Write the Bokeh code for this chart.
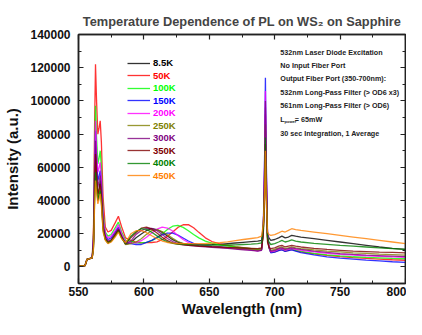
from bokeh.plotting import figure
from bokeh.models import (LinearAxis, SingleIntervalTicker, Label, Legend, Range1d,
                          BasicTickFormatter, CustomJSTickFormatter)
from bokeh.embed import file_html
from bokeh.resources import INLINE

# ---------------- data (intensity in thousands of counts) ----------------
wavelength = [550, 555, 556.5, 560.5,
              561.5, 562.3, 563.0, 563.8, 564.8, 565.8, 566.6, 567.5, 568.8, 570.5, 572.5, 575, 578, 580.5, 583, 586,
              590, 594, 598, 602, 606, 610, 614, 618, 622, 626, 630, 634, 638, 642, 647, 652, 658, 664, 670, 676, 682, 687, 690,
              691.3, 692.3, 692.9, 693.6, 694.5, 695.6, 697,
              700, 703, 705.5, 708, 710.5, 713, 716, 720, 730, 740, 750, 760, 770, 780, 790, 800]

temps = ["8.5K", "50K", "100K", "150K", "200K", "250K", "300K", "350K", "400K", "450K"]
colors = ["#000000", "#FF0000", "#00FF00", "#0000FF", "#FF00FF",
          "#808000", "#800080", "#800000", "#008000", "#FF8000"]

i_8K5 = [0.5, 0.8, 4.5, 5.5,
         15, 50, 72, 54, 40, 47, 52, 45, 25, 17, 14.5, 15.5, 19, 22, 18, 13.5,
         14.5, 17.6, 19.8, 21.9, 23, 22.5, 20.8, 18.6, 16.4, 14.9, 14, 13.6, 13.4, 13.3, 13.3, 13.4, 13.6, 14, 14.4, 14.8, 15.2, 15.5, 16,
         25, 50, 82, 46, 20, 17.5, 16,
         16.5, 17.5, 18.5, 17.5, 18, 19, 18.5, 18, 17, 16, 15, 14, 13, 12, 11.2, 10.5]
i_50K = [0.5, 0.8, 4.5, 5.5,
         25, 85, 122, 100, 80, 84, 88, 75, 42, 24, 21, 22, 26.5, 30.5, 24, 17.5,
         16, 15, 14.5, 14.6, 14.7, 15.1, 16.4, 18.4, 21, 23.8, 25.4, 25.5, 23.6, 20.8, 17.5, 15.3, 13.8, 13, 12.2, 11.6, 11, 10.6, 11,
         21, 55, 92, 51, 17.5, 11.5, 8.7,
         9.1, 10, 10.5, 9.5, 10, 10.5, 9.8, 9, 7.8, 6.9, 6.2, 5.6, 5.1, 4.7, 4.3, 4]
i_100K = [0.5, 0.8, 4.5, 5.5,
          20, 68, 97, 78, 62, 66, 70, 60, 33, 21, 18.5, 19.5, 23.5, 27, 21, 16,
          15.5, 14.5, 14.5, 14.8, 15.8, 17.5, 20, 22.6, 24.5, 25, 23.8, 21.8, 19.5, 17.5, 15.5, 14.3, 13.3, 12.6, 12, 11.5, 11, 10.6, 11,
          22, 58, 96, 53, 18, 11.5, 8.8,
          9.2, 10.2, 10.7, 9.7, 10.2, 10.7, 10, 9.3, 8.2, 7.3, 6.6, 6.1, 5.7, 5.4, 5.1, 4.9]
i_150K = [0.5, 0.8, 4.5, 5.5,
          17, 57, 82, 65, 52, 55, 58, 50, 28, 19, 16.5, 17.5, 21, 24, 19, 14.5,
          14, 13.5, 13.5, 14.8, 16, 17.8, 19.4, 20.4, 20.3, 19.1, 17.4, 15.6, 14.2, 13.3, 12.8, 12.4, 12, 11.6, 11.2, 10.8, 10.3, 9.8, 10.3,
          24, 68, 114, 63, 21, 12, 8.5,
          8.9, 9.8, 10.3, 9.3, 9.8, 10.3, 9.5, 8.6, 7.2, 6.1, 5.3, 4.7, 4.1, 3.6, 3.1, 2.7]
i_200K = [0.5, 0.8, 4.5, 5.5,
          18, 62, 88, 70, 57, 60, 63, 54, 30, 20, 17.5, 18.5, 22, 25.5, 20, 15,
          14.5, 14.5, 15.8, 17.9, 20.4, 22.7, 23.9, 23.4, 21.6, 18.9, 16.5, 14.7, 13.6, 12.9, 12.5, 12.2, 11.8, 11.4, 11, 10.6, 10.2, 9.7, 10.3,
          23, 64, 106, 58, 20, 12, 9,
          9.5, 10.5, 11, 10, 10.5, 11, 10.5, 10, 9, 8.2, 7.6, 7.1, 6.7, 6.3, 6, 5.8]
i_250K = [0.5, 0.8, 4.5, 5.5,
          13, 43, 62, 51, 42, 45, 48, 41, 23, 16.5, 14.5, 15.5, 19, 22, 17.5, 13.5,
          14, 15, 17, 19.6, 21.9, 22.5, 21.3, 19.4, 17.2, 15.3, 14.1, 13.4, 13, 12.7, 12.4, 12.1, 11.8, 11.5, 11.2, 10.9, 10.5, 10.1, 10.6,
          20, 52, 86, 47, 16.5, 12, 10,
          10.5, 11.5, 12, 11, 11.5, 12, 11.5, 11, 10.2, 9.5, 9, 8.5, 8.1, 7.7, 7.4, 7.1]
i_300K = [0.5, 0.8, 4.5, 5.5,
          16, 53, 76, 60, 48, 52, 55, 47, 26, 18, 15.5, 16.5, 20, 23, 18.5, 14,
          15.5, 19.6, 21.9, 23.3, 23.2, 21.8, 19.5, 17.1, 15.3, 14.1, 13.4, 13, 12.7, 12.4, 12.1, 11.8, 11.5, 11.1, 10.7, 10.3, 9.9, 9.5, 10,
          22, 60, 100, 55, 19, 12, 9.5,
          10, 11, 11.5, 10.5, 11, 11.5, 11, 10.5, 9.5, 8.7, 8, 7.5, 7.1, 6.8, 6.5, 6.2]
i_350K = [0.5, 0.8, 4.5, 5.5,
          14, 47, 68, 55, 44, 47, 50, 43, 24, 17, 15, 16, 19.5, 22.5, 18, 14,
          17.6, 20.7, 23.3, 24, 22.7, 20.4, 17.9, 15.8, 14.4, 13.7, 13.3, 13, 12.8, 12.6, 12.4, 12.2, 12, 11.8, 11.6, 11.4, 11.2, 11, 11.5,
          20, 45, 74, 41, 15, 12, 11,
          11.5, 12.5, 13, 12, 12.5, 13, 12.5, 12, 11.2, 10.5, 10, 9.5, 9.2, 8.9, 8.7, 8.5]
i_400K = [0.5, 0.8, 4.5, 5.5,
          12, 40, 57, 48, 40, 43, 46, 39, 22, 16.5, 14.5, 15.5, 18.5, 21.5, 17.5, 14,
          18.5, 21.3, 23, 22.6, 20.9, 18.7, 16.6, 15.1, 14.2, 13.8, 13.6, 13.5, 13.4, 13.3, 13.2, 13.1, 13.1, 13.2, 13.3, 13.5, 13.7, 14, 14.5,
          23, 47, 78, 44, 18, 15, 13.5,
          14, 15, 16, 15, 15.5, 16.3, 15.5, 15, 14.2, 13.6, 13, 12.5, 12, 11.5, 11, 10.5]
i_450K = [0.5, 0.8, 4.5, 5.5,
          11, 37, 52, 45, 38, 41, 44, 37, 21, 16, 14, 15, 18, 21, 17, 14.5,
          20, 21.8, 21.8, 20.6, 18.8, 17, 15.6, 14.7, 14.3, 14.1, 14, 14, 14, 14, 14.1, 14.3, 14.6, 15.1, 15.8, 16.5, 17.1, 17.6, 18.5,
          26, 44, 70, 40, 21, 19.5, 19,
          19.5, 20.5, 21.5, 21, 22, 23, 22.5, 22, 21, 20, 19, 18, 17, 16, 15, 14]

series = [i_8K5, i_50K, i_100K, i_150K, i_200K, i_250K, i_300K, i_350K, i_400K, i_450K]

notes = ["532nm Laser Diode Excitation",
         "No Input Fiber Port",
         "Output Fiber Port (350-700nm):",
         "532nm Long-Pass Filter (> OD6 x3)",
         "561nm Long-Pass Filter (> OD6)",
         None,
         "30 sec Integration, 1 Average"]

FONT = "Liberation Sans"

# ---------------- figure ----------------
W, H = 406, 319
BL, BR, BT, BB = 78, 1, 34, 24
p = figure(width=W, height=H, output_backend="svg", toolbar_location=None,
           x_range=Range1d(550, 800), y_range=Range1d(-10000, 140000),
           min_border_left=BL, min_border_right=BR, min_border_top=BT, min_border_bottom=BB)
p.xgrid.visible = False
p.ygrid.visible = False
p.outline_line_color = "#222222"
p.outline_line_width = 1.5
p.background_fill_color = "white"
p.border_fill_color = "white"

p.title.text = "Temperature Dependence of PL on WS\u2082 on Sapphire"
p.title.align = "center"
p.title.text_font = FONT
p.title.text_font_size = "12.8px"
p.title.text_font_style = "bold"
p.title.standoff = 12


def style_axis(ax, interval, minor, show_labels):
    ax.ticker = SingleIntervalTicker(interval=interval, num_minor_ticks=minor)
    ax.major_tick_in = 5
    ax.major_tick_out = 0
    ax.minor_tick_in = 3
    ax.minor_tick_out = 0
    ax.axis_line_color = "#222222"
    ax.axis_line_width = 1.5
    ax.major_tick_line_color = "#222222"
    ax.major_tick_line_width = 1.2
    ax.minor_tick_line_color = "#222222"
    ax.minor_tick_line_width = 1
    ax.major_label_text_font = FONT
    ax.major_label_text_font_style = "bold"
    ax.major_label_text_color = "#111111"
    if show_labels:
        ax.major_label_text_font_size = "12px"
        ax.axis_label_text_font = FONT
        ax.axis_label_text_font_style = "bold"
        ax.axis_label_text_font_size = "15px"
        ax.axis_label_text_color = "#111111"
    else:
        ax.formatter = CustomJSTickFormatter(code="return ''")
        ax.major_label_text_font_size = "1px"
        ax.major_label_standoff = 0
        ax.axis_label_standoff = 0


xa = p.xaxis[0]
style_axis(xa, 50, 2, True)
xa.axis_label = "Wavelength (nm)"
xa.major_label_standoff = 3
xa.axis_label_standoff = 1

ya = p.yaxis[0]
style_axis(ya, 20000, 2, True)
ya.formatter = BasicTickFormatter(use_scientific=False)
ya.axis_label = "Intensity (a.u.)"
ya.major_label_standoff = 8
ya.axis_label_standoff = 6

top = LinearAxis()
style_axis(top, 50, 2, False)
p.add_layout(top, "above")
right = LinearAxis()
style_axis(right, 20000, 2, False)
p.add_layout(right, "right")

# ---------------- curves ----------------
renderers = []
for vals, col in zip(series, colors):
    r = p.line(wavelength, [v * 1000 for v in vals], line_color=col, line_width=1.3, line_alpha=0.8)
    renderers.append(r)

# ---------------- legend (one per entry to colour each label) ----------------
# rows are placed from the frame top; the bottom border is set by the axis texts
frame_h = H - BT - 36
for i, (r, lab, col) in enumerate(zip(renderers, temps, colors)):
    leg = Legend(items=[(lab, [r])], location=(49, frame_h - 29 - 12.5 * i - 5),
                 label_text_font=FONT, label_text_font_style="bold", label_text_font_size="9.5px",
                 label_text_color=col, glyph_width=23, glyph_height=10, label_height=10,
                 label_standoff=3, padding=0, margin=0, spacing=0,
                 border_line_color=None, background_fill_alpha=0)
    p.add_layout(leg)

# ---------------- notes ----------------
note_x = 704.3
note_y = [129100, 121400, 113300, 105100, 97000, 88900, 80200]
for t, yy in zip(notes, note_y):
    if t is None:
        continue
    p.add_layout(Label(x=note_x, y=yy, text=t, text_font=FONT, text_font_style="bold",
                       text_font_size="7.2px", text_baseline="middle", text_color="#222222"))
# L_power = 65mW
p.add_layout(Label(x=note_x, y=note_y[5], text="L", text_font=FONT, text_font_style="bold",
                   text_font_size="7.2px", text_baseline="middle", text_color="#222222"))
p.add_layout(Label(x=note_x, y=note_y[5], x_offset=4.3, y_offset=-2.5, text="power", text_font=FONT,
                   text_font_style="bold", text_font_size="4px", text_baseline="middle", text_color="#222222"))
p.add_layout(Label(x=note_x, y=note_y[5], x_offset=14.5, text="= 65mW", text_font=FONT, text_font_style="bold",
                   text_font_size="7.2px", text_baseline="middle", text_color="#222222"))

open("out.html", "w").write(file_html(p, INLINE))
